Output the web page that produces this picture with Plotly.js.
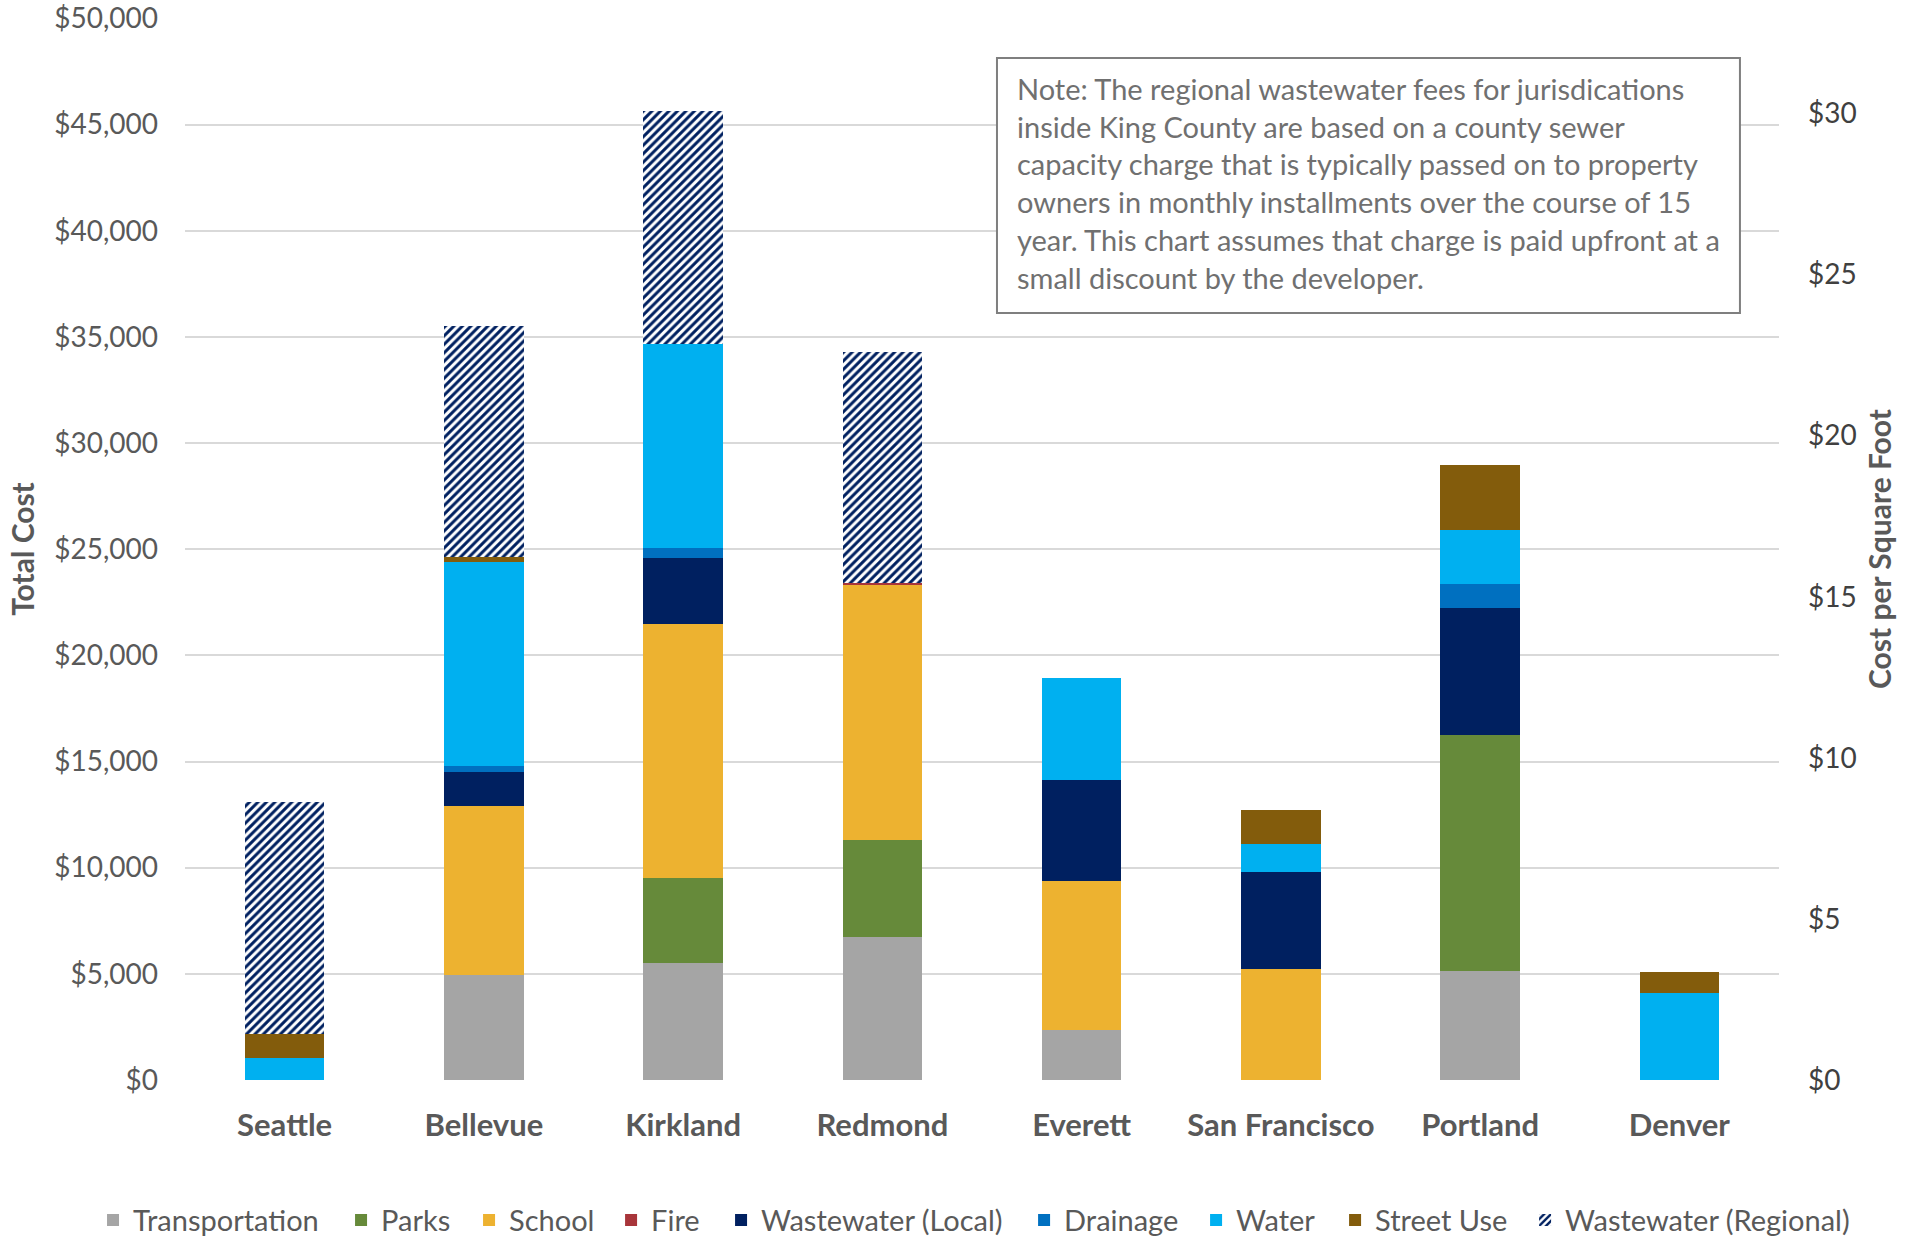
<!DOCTYPE html>
<html>
<head>
<meta charset="utf-8">
<script src="https://cdn.plot.ly/plotly-3.0.1.min.js"></script>
<style>html,body{margin:0;padding:0;background:#fff;}#chart{width:1911px;height:1239px;}</style>
</head>
<body>
<div id="chart"></div>
<script>
const cities = ["Seattle","Bellevue","Kirkland","Redmond","Everett","San Francisco","Portland","Denver"];
const transportation = [0, 4940, 5510, 6720, 2350, 0, 5150, 0];
const parks          = [0, 0, 4020, 4590, 0, 0, 11110, 0];
const school         = [0, 7960, 11940, 12000, 7010, 5210, 0, 0];
const fire           = [0, 0, 0, 90, 0, 0, 0, 0];
const wastewaterLocal= [0, 1620, 3100, 0, 4760, 4600, 5990, 0];
const drainage       = [0, 290, 510, 0, 0, 0, 1110, 0];
const water          = [1020, 9580, 9590, 0, 4820, 1320, 2540, 4080];
const streetUse      = [1150, 230, 0, 0, 0, 1580, 3050, 1020];
const wastewaterRegional = [10930, 10910, 10970, 10910, 0, 0, 0, 0];

const seriesNames = ["Transportation","Parks","School","Fire","Wastewater (Local)","Drainage","Water","Street Use","Wastewater (Regional)"];
const seriesColors = ["#A5A5A5","#668A3A","#EDB230","#A8353A","#002060","#0070C0","#00B0F0","#835C0C","#002060"];
const seriesValues = [transportation, parks, school, fire, wastewaterLocal, drainage, water, streetUse, wastewaterRegional];

const leftTicks = [0,5000,10000,15000,20000,25000,30000,35000,40000,45000,50000];
const rightTicks = [0,5,10,15,20,25,30];
const noteText = "Note: The regional wastewater fees for jurisdications<br>inside King County are based on a county sewer<br>capacity charge that is typically passed on to property<br>owners in monthly installments over the course of 15<br>year. This chart assumes that charge is paid upfront at a<br>small discount by the developer.";

const FONT = "Lato, 'Open Sans', sans-serif";
// horizontal position (paper fraction) of each legend entry, one legend per series
const legendX = [-0.0577, 0.0979, 0.1782, 0.2673, 0.3363, 0.5264, 0.6343, 0.7215, 0.8407];

const traces = seriesNames.map((n, i) => {
  const t = {
    type: 'bar', name: n, x: cities, y: seriesValues[i],
    marker: { color: seriesColors[i], line: { width: 0 } },
    legend: i === 0 ? 'legend' : 'legend' + (i + 1),
    hoverinfo: 'skip'
  };
  if (n === "Wastewater (Regional)") {
    t.marker = { color: '#002060', line: { width: 0 },
      pattern: { shape: '/', fgcolor: '#002060', bgcolor: '#FFFFFF', size: 6, solidity: 0.5 } };
  }
  return t;
});
// empty trace so that the secondary (per square foot) axis is drawn
traces.push({ type: 'scatter', x: [], y: [], yaxis: 'y2', showlegend: false, hoverinfo: 'skip' });

const layout = {
  width: 1911, height: 1239,
  margin: { l: 185, r: 132, t: 18, b: 159, autoexpand: false },
  paper_bgcolor: '#FFFFFF', plot_bgcolor: '#FFFFFF',
  font: { family: FONT, size: 28, color: '#595959' },
  barmode: 'stack', bargap: 0.6,
  showlegend: true,
  xaxis: {
    type: 'category', showgrid: false, zeroline: false, showline: false, ticks: '',
    tickfont: { family: FONT, size: 31, color: '#595959', weight: 'bold' },
    ticklabelstandoff: 24
  },
  yaxis: {
    range: [0, 50020], tickvals: leftTicks, tickformat: '$,.0f',
    showgrid: true, gridcolor: '#D9D9D9', gridwidth: 2, zeroline: false, showline: false,
    tickfont: { family: FONT, size: 28, color: '#595959' },
    ticklabelstandoff: 26,
    title: { text: 'Total Cost', font: { family: FONT, size: 30, color: '#595959', weight: 'bold' }, standoff: 10 }
  },
  yaxis2: {
    overlaying: 'y', side: 'right', anchor: 'x',
    range: [0, 32.96], tickvals: rightTicks, tickformat: '$,.0f',
    showgrid: false, zeroline: false, showline: false,
    tickfont: { family: FONT, size: 28, color: '#404040' },
    ticklabelstandoff: 28,
    title: { text: 'Cost per Square Foot', font: { family: FONT, size: 30, color: '#595959', weight: 'bold' }, standoff: 14 }
  },
  shapes: [{
    type: 'rect', xref: 'paper', yref: 'paper',
    x0: 0.5094, x1: 0.9755, y0: 0.7222, y1: 0.9623,
    line: { color: '#7F7F7F', width: 2 }, fillcolor: '#FFFFFF', layer: 'above'
  }],
  annotations: [{
    xref: 'paper', yref: 'paper', x: 0.5208, y: 0.8442, xanchor: 'left', yanchor: 'middle',
    align: 'left', showarrow: false, text: noteText,
    font: { family: FONT, size: 29, color: '#707070' }
  }]
};
legendX.forEach((lx, i) => {
  const key = i === 0 ? 'legend' : 'legend' + (i + 1);
  layout[key] = { orientation: 'h', x: lx, xanchor: 'left', y: -0.132, yanchor: 'middle',
    bgcolor: 'rgba(0,0,0,0)', font: { family: FONT, size: 29, color: '#595959' } };
});

Plotly.newPlot('chart', traces, layout, { displayModeBar: false, staticPlot: true });
</script>
</body>
</html>
